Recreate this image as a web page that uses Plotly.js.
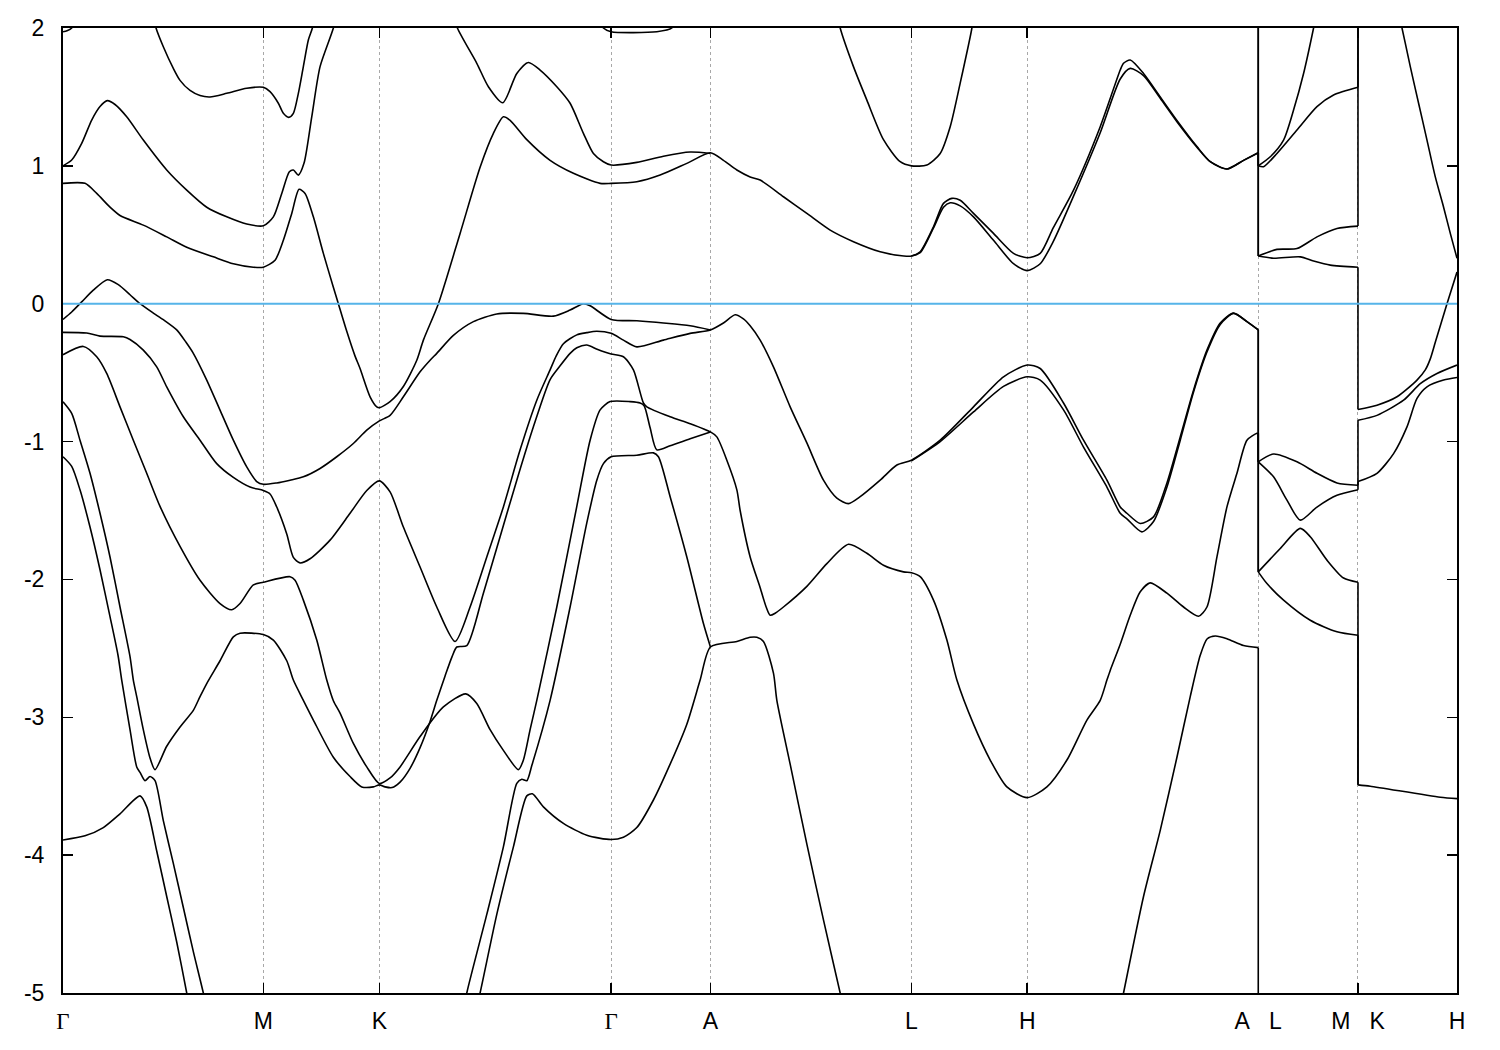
<!DOCTYPE html>
<html>
<head>
<meta charset="utf-8">
<script src="https://cdn.plot.ly/plotly-3.0.1.min.js"></script>
<style>html,body{margin:0;padding:0;background:#fff;}#chart{width:1500px;height:1050px;}</style>
</head>
<body>
<div id="chart"></div>
<script>
// k-path: high-symmetry positions and labels
const kTicks = [0, 200.3, 316.3, 548, 647.3, 848.3, 964, 1195, 1294.7, 1393.7];
const kLabels = ['Γ', 'M', 'K', 'Γ', 'A', 'L', 'H', 'A\u00a0\u00a0\u00a0L', 'M\u00a0\u00a0\u00a0K', 'H'];
const eTicks = [-5, -4, -3, -2, -1, 0, 1, 2];
const eLabels = ['-5', '-4', '-3', '-2', '-1', '0', '1', '2'];
const fermiLevel = 0;

// bands: [k, E (eV)]
const band01 = [[0,1.973],[4,1.98],[8.7,2.0],[10,2.03]];
const band02 = [[89,2.12],[93,2.0],[100.3,1.864],[110.3,1.707],[117,1.62],[127,1.547],[137,1.51],[147,1.50],[163.7,1.526],[183.7,1.563],[200.3,1.57],[207,1.538],[215.3,1.454],[220.3,1.381],[225.7,1.352],[230.3,1.381],[235.3,1.526],[240.3,1.72],[245.3,1.913],[249.3,2.0],[251,2.1]];
const band03 = [[0,1.0],[8.7,1.042],[18.7,1.163],[28.7,1.332],[37,1.43],[44.3,1.473],[52,1.445],[63.7,1.356],[80.3,1.187],[103.7,0.97],[123.7,0.824],[143.7,0.70],[163.7,0.63],[183.7,0.578],[200.3,0.565],[210.3,0.63],[218.7,0.80],[226.3,0.957],[230.3,0.97],[235.3,0.933],[241,1.02],[248.7,1.356],[257,1.72],[270.3,2.0],[273,2.1]];
const band04 = [[0,0.873],[22,0.873],[33.7,0.80],[47,0.70],[57,0.64],[80.3,0.57],[103.7,0.485],[123.7,0.41],[150.3,0.34],[170.3,0.29],[190.3,0.265],[200.3,0.265],[212,0.316],[220.3,0.46],[228.7,0.655],[236,0.83],[242,0.80],[250.3,0.63],[260.3,0.365],[270.3,0.12],[275.3,0.0],[283.7,-0.2],[292,-0.38],[297,-0.47],[307,-0.675],[313.7,-0.748],[316.3,-0.755],[327,-0.71],[340.3,-0.60],[353.7,-0.41],[360.3,-0.264],[375.3,0.0],[397,0.51],[417,0.99],[430.3,1.236],[440.3,1.356],[447,1.33],[463.7,1.19],[487,1.04],[510.3,0.946],[537,0.873],[548,0.873],[573.7,0.885],[597,0.933],[623.7,1.018],[647.3,1.095],[660.3,1.04],[673.7,0.97],[687,0.92],[697,0.897],[720.3,0.776],[743.7,0.655],[767,0.534],[790.3,0.45],[817,0.377],[840.7,0.346],[848.3,0.346],[857,0.377],[870.3,0.558],[880.3,0.728],[888.7,0.764],[897,0.75],[910.3,0.655],[930.3,0.51],[950.3,0.365],[964,0.333],[977,0.365],[990,0.55],[1010.3,0.824],[1037,1.284],[1057,1.695],[1060.3,1.744],[1067,1.768],[1080.3,1.67],[1097,1.50],[1113.7,1.33],[1133.7,1.14],[1147,1.03],[1163.7,0.977],[1180.3,1.04],[1195,1.095],[1195,0.346],[1213.7,0.394],[1233.7,0.40],[1253.7,0.485],[1273.7,0.546],[1294.7,0.563],[1294.7,3.4],[1338.7,2.0],[1347,1.72],[1355.3,1.454],[1363.7,1.187],[1372,0.92],[1380.3,0.70],[1387,0.51],[1393.7,0.33]];
const band05 = [[848.3,0.346],[857,0.37],[870.3,0.55],[880.3,0.70],[887,0.732],[897,0.71],[910.3,0.63],[930.3,0.46],[950.3,0.29],[964,0.24],[977,0.29],[990,0.45],[1010.3,0.78],[1037,1.24],[1057,1.63],[1067,1.707],[1080.3,1.655],[1097,1.49],[1113.7,1.32],[1133.7,1.135],[1147,1.03],[1163.7,0.977],[1180.3,1.04],[1195,1.095],[1195,0.346],[1210.3,0.33],[1237,0.34],[1250.3,0.31],[1267,0.28],[1294.7,0.265],[1294.7,-0.767],[1313.7,-0.736],[1333.7,-0.675],[1353.7,-0.554],[1362,-0.48],[1367,-0.40],[1372,-0.28],[1383.7,0.0],[1393.7,0.23]];
const band06 = [[388,2.15],[394.3,2.0],[413.7,1.744],[425.3,1.574],[439.7,1.458],[453.7,1.67],[465.3,1.75],[477,1.695],[493.7,1.574],[507,1.454],[520.3,1.236],[530.3,1.09],[540.3,1.03],[548,1.006],[573.7,1.025],[600.3,1.07],[627,1.10],[647.3,1.09]];
const band07 = [[537,2.05],[540.3,2.0],[548,1.973],[593.7,1.973],[608.7,2.0],[612,2.05]];
const band08 = [[774,2.1],[777,2.0],[790.3,1.72],[803.7,1.477],[820.3,1.19],[837,1.03],[848.3,1.0],[863.7,1.006],[877,1.09],[887,1.284],[897,1.6],[908.7,2.0],[910,2.08]];
const band09 = [[1195,2.6],[1195,1.0],[1207,1.066],[1220.3,1.187],[1230.3,1.405],[1240.3,1.67],[1250.3,2.0],[1253,2.1]];
const band10 = [[1195,2.6],[1195,1.0],[1200.3,0.994],[1213.7,1.09],[1233.7,1.26],[1253.7,1.43],[1270.3,1.514],[1294.7,1.57],[1294.7,3.6]];
const band11 = [[0,-0.114],[8.7,-0.06],[18.7,0.013],[30.3,0.098],[44.3,0.174],[55.3,0.138],[67,0.065],[77,0.0],[90.3,-0.068],[100.3,-0.116],[113.7,-0.19],[123,-0.28],[130.3,-0.36],[143.7,-0.554],[157,-0.772],[170.3,-0.99],[183.7,-1.184],[193.7,-1.29],[200.3,-1.31],[213.7,-1.30],[227,-1.28],[240.3,-1.256],[257,-1.195],[273.7,-1.11],[290.3,-1.014],[303.7,-0.917],[316.3,-0.85],[327,-0.81],[340.3,-0.675],[357,-0.494],[367,-0.41],[373.7,-0.36],[390.3,-0.23],[410.3,-0.13],[433.7,-0.074],[460.3,-0.07],[490.3,-0.09],[507,-0.046],[520.3,0.0],[527,-0.015],[548,-0.114],[573.7,-0.124],[600.3,-0.14],[627,-0.16],[647.3,-0.19]];
const band12 = [[0,-0.208],[23.7,-0.213],[37,-0.235],[60.3,-0.24],[67,-0.26],[80.3,-0.337],[93.7,-0.458],[103.7,-0.603],[120.3,-0.82],[137,-0.99],[153.7,-1.16],[170.3,-1.26],[187,-1.33],[200.3,-1.355],[207,-1.38],[213.7,-1.475],[223.7,-1.67],[230.3,-1.84],[237,-1.88],[247,-1.85],[267,-1.715],[287,-1.52],[303.7,-1.355],[316.3,-1.285],[327,-1.365],[340.3,-1.62],[357,-1.91],[373.7,-2.20],[392,-2.45],[407,-2.2],[423.7,-1.837],[440.3,-1.474],[457,-1.06],[473.7,-0.70],[487,-0.48],[493,-0.38],[500.3,-0.29],[513.7,-0.226],[523.7,-0.21],[533.7,-0.20],[548,-0.215],[560.3,-0.264],[573.7,-0.313],[600.3,-0.264],[627,-0.215],[647.3,-0.19],[660.3,-0.14],[672,-0.08],[680.3,-0.11],[687,-0.16],[697,-0.264],[710.3,-0.458],[727,-0.748],[743.7,-1.01],[760.3,-1.28],[773.7,-1.41],[785.3,-1.45],[797,-1.40],[817,-1.28],[833.7,-1.17],[848.3,-1.135],[877,-0.99],[910.3,-0.748],[940.3,-0.53],[964,-0.445],[977,-0.47],[1000.3,-0.72],[1020.3,-0.99],[1043.7,-1.28],[1057,-1.474],[1063.7,-1.52],[1077,-1.594],[1090.3,-1.546],[1103.7,-1.30],[1117,-0.966],[1130.3,-0.627],[1143.7,-0.337],[1157,-0.14],[1170.3,-0.068],[1183.7,-0.13],[1195,-0.19],[1195,-1.147],[1210.3,-1.09],[1233.7,-1.147],[1253.7,-1.23],[1273.7,-1.30],[1294.7,-1.317],[1294.7,-0.845],[1313.7,-0.81],[1340.3,-0.70],[1357,-0.58],[1373.7,-0.506],[1393.7,-0.445]];
const band13 = [[848.3,-1.14],[877,-1.0],[910.3,-0.785],[940.3,-0.60],[964,-0.53],[977,-0.554],[1000.3,-0.77],[1020.3,-1.04],[1043.7,-1.33],[1057,-1.52],[1063.7,-1.56],[1078.7,-1.655],[1090.3,-1.58],[1103.7,-1.33],[1117,-0.99],[1130.3,-0.64],[1143.7,-0.35],[1157,-0.15],[1170.3,-0.07],[1183.7,-0.13],[1195,-0.19],[1195,-1.147],[1210.3,-1.256],[1223.7,-1.425],[1237,-1.57],[1253.7,-1.475],[1273.7,-1.39],[1294.7,-1.35],[1294.7,-1.29],[1313.7,-1.23],[1330.3,-1.087],[1343.7,-0.893],[1353.7,-0.687],[1363.7,-0.603],[1380.3,-0.554],[1393.7,-0.535]];
const band14 = [[0,-0.37],[20.3,-0.31],[33.7,-0.385],[43.7,-0.506],[57,-0.748],[70.3,-0.99],[83.7,-1.23],[97,-1.47],[117,-1.76],[137,-2.006],[157,-2.175],[168.7,-2.22],[177,-2.175],[190.3,-2.04],[200.3,-2.02],[227,-1.98],[232,-2.006],[240.3,-2.15],[253.7,-2.44],[263.7,-2.73],[270.3,-2.88],[277,-2.97],[290.3,-3.19],[303.7,-3.36],[316.3,-3.48],[327,-3.44],[337,-3.36],[357,-3.14],[380.3,-2.925],[402.7,-2.83],[413.7,-2.90],[427,-3.09],[440.3,-3.24],[455.3,-3.38],[460.3,-3.31],[467,-3.09],[473.7,-2.877],[493.7,-2.20],[513.7,-1.47],[527,-0.99],[537,-0.77],[547,-0.71],[567,-0.71],[577,-0.72],[581,-0.74],[587,-0.90],[593.7,-1.06],[607,-1.03],[627,-0.98],[647.3,-0.93]];
const band15 = [[0,-0.712],[8.7,-0.796],[17,-0.99],[27,-1.23],[37,-1.52],[47,-1.837],[57,-2.2],[67,-2.56],[70.3,-2.73],[73.7,-2.85],[80.3,-3.09],[87,-3.295],[92,-3.38],[103.7,-3.21],[117,-3.07],[130.3,-2.95],[137,-2.85],[143.7,-2.755],[157,-2.59],[170.3,-2.417],[177,-2.39],[200.3,-2.40],[210.3,-2.44],[223.7,-2.59],[230.3,-2.73],[240.3,-2.877],[250.3,-3.02],[270.3,-3.29],[287,-3.43],[298.7,-3.505],[310.3,-3.505],[316.3,-3.49],[322,-3.505],[329,-3.51],[337,-3.47],[347,-3.37],[357,-3.22],[367,-3.03],[373.7,-2.877],[382,-2.70],[389,-2.56],[393.7,-2.49],[403.7,-2.48],[420.3,-2.10],[437,-1.69],[453.7,-1.28],[470.3,-0.893],[487,-0.55],[497,-0.45],[507,-0.36],[513.7,-0.32],[523.7,-0.30],[534,-0.33],[548,-0.365],[560.3,-0.385],[570.3,-0.48],[580.3,-0.72],[583.7,-0.748],[607,-0.82],[627,-0.87],[647.3,-0.93],[653.7,-0.966],[663.7,-1.135],[673.7,-1.35],[677,-1.50],[687,-1.837],[697,-2.06],[703,-2.20],[707,-2.26],[712,-2.245],[720.3,-2.2],[743.7,-2.05],[763.7,-1.885],[785.3,-1.745],[803.7,-1.81],[820.3,-1.897],[840.3,-1.945],[848.3,-1.952],[857,-1.98],[870.3,-2.15],[883.7,-2.44],[893.7,-2.73],[910.3,-3.05],[927,-3.31],[943.7,-3.505],[964,-3.583],[983.7,-3.505],[1003.7,-3.31],[1023.7,-3.02],[1037,-2.877],[1043.7,-2.73],[1047,-2.66],[1057,-2.47],[1067,-2.26],[1077,-2.09],[1087,-2.025],[1103.7,-2.10],[1120.3,-2.2],[1135.3,-2.267],[1143.7,-2.2],[1153.7,-1.837],[1163.7,-1.474],[1173.7,-1.23],[1183.7,-0.99],[1193.7,-0.94],[1195,-0.94],[1195,-1.945],[1203.7,-2.03],[1220.3,-2.15],[1247,-2.296],[1273.7,-2.38],[1294.7,-2.405],[1294.7,-3.49],[1307,-3.50],[1377,-3.58],[1393.7,-3.59]];
const band16 = [[1195,-0.94],[1195,-1.945],[1217,-1.776],[1237,-1.63],[1247,-1.69],[1263.7,-1.86],[1280.3,-1.99],[1294.7,-2.02],[1294.7,-3.49]];
const band17 = [[0,-1.11],[8.7,-1.18],[17,-1.35],[27,-1.62],[37,-1.93],[47,-2.27],[55,-2.55],[58.7,-2.73],[67,-3.09],[73.7,-3.36],[77,-3.40],[82,-3.46],[87,-3.43],[92,-3.46],[100.3,-3.75],[110.3,-4.06],[120.3,-4.38],[130.3,-4.70],[140.3,-5.0],[143,-5.1]];
const band18 = [[0,-3.89],[22,-3.86],[40.3,-3.80],[57,-3.70],[77,-3.57],[83.7,-3.65],[93.7,-3.97],[103.7,-4.30],[113.7,-4.63],[123.7,-5.0],[126,-5.1]];
const band19 = [[400,-5.15],[403.7,-5.0],[423.7,-4.43],[440.3,-3.94],[453.7,-3.48],[458.7,-3.45],[463.7,-3.46],[468.7,-3.35],[487,-2.877],[507,-2.2],[523.7,-1.59],[533.7,-1.28],[540.3,-1.16],[548,-1.11],[573.7,-1.099],[590.3,-1.082],[595.3,-1.11],[607,-1.40],[623.7,-1.837],[640.3,-2.32],[647.3,-2.49]];
const band20 = [[412,-5.15],[417,-5.0],[433.7,-4.43],[450.3,-3.94],[463.7,-3.57],[469.3,-3.555],[480.3,-3.65],[500.3,-3.77],[523.7,-3.856],[548,-3.887],[560.3,-3.87],[573.7,-3.80],[590.3,-3.60],[607,-3.34],[623.7,-3.05],[637,-2.73],[647.3,-2.49],[673.7,-2.45],[687,-2.42],[693.7,-2.42],[700.3,-2.45],[710.3,-2.68],[713.7,-2.877],[727,-3.34],[743.7,-3.92],[760.3,-4.47],[777,-5.0],[780,-5.1]];
const band21 = [[1057,-5.12],[1060.3,-5.0],[1080.3,-4.30],[1097,-3.82],[1113.7,-3.29],[1127,-2.85],[1137,-2.55],[1144,-2.43],[1152,-2.41],[1163.7,-2.43],[1180.3,-2.48],[1195,-2.495],[1195,-5.5]];

const bands = [band01, band02, band03, band04, band05, band06, band07, band08, band09, band10, band11,
  band12, band13, band14, band15, band16, band17, band18, band19, band20, band21];

// Split each band at the path discontinuities (same k twice): smooth runs + straight jumps
const traces = [];
const lineStyle = {color: '#000000', width: 1.6};
bands.forEach(b => {
  let run = [b[0]];
  const flush = () => {
    if (run.length > 1) {
      traces.push({type: 'scatter', mode: 'lines', x: run.map(p => p[0]), y: run.map(p => p[1]),
        line: Object.assign({shape: 'spline', smoothing: 0.7, simplify: false}, lineStyle),
        hoverinfo: 'skip', showlegend: false});
    }
  };
  for (let i = 1; i < b.length; i++) {
    if (b[i][0] === b[i - 1][0]) {
      flush();
      traces.push({type: 'scatter', mode: 'lines', x: [b[i - 1][0], b[i][0]], y: [b[i - 1][1], b[i][1]],
        line: Object.assign({shape: 'linear'}, lineStyle), hoverinfo: 'skip', showlegend: false});
      run = [b[i]];
    } else {
      run.push(b[i]);
    }
  }
  flush();
});

const fontMain = {family: 'Liberation Sans, Arial, sans-serif', size: 23, color: '#000'};
const xLabelsHtml = kLabels.map(t => t === 'Γ' ? '<span style="font-family:Liberation Serif, serif">Γ</span>' : t);

const layout = {
  width: 1500, height: 1050,
  margin: {l: 63, r: 43, t: 28, b: 57},
  paper_bgcolor: '#ffffff', plot_bgcolor: '#ffffff',
  showlegend: false,
  font: fontMain,
  xaxis: {
    range: [0, kTicks[kTicks.length - 1]], tickmode: 'array', tickvals: kTicks, ticktext: xLabelsHtml,
    showgrid: true, gridcolor: '#a8a8a8', griddash: 'dot', gridwidth: 1,
    zeroline: false, showline: true, linecolor: '#000', linewidth: 2, mirror: 'ticks',
    ticks: 'inside', ticklen: 10, tickwidth: 1.5, tickcolor: '#000',
    ticklabelstandoff: 6, tickfont: fontMain
  },
  yaxis: {
    range: [-5, 2], tickmode: 'array', tickvals: eTicks, ticktext: eLabels,
    showgrid: false, zeroline: false, showline: true, linecolor: '#000', linewidth: 2, mirror: 'ticks',
    ticks: 'inside', ticklen: 10, tickwidth: 1.5, tickcolor: '#000',
    ticklabelstandoff: 12, tickfont: fontMain
  },
  shapes: [{
    type: 'line', xref: 'paper', x0: 0, x1: 1, yref: 'y', y0: fermiLevel, y1: fermiLevel,
    line: {color: '#56b4e9', width: 2}, layer: 'above'
  }]
};

Plotly.newPlot('chart', traces, layout, {staticPlot: true, displayModeBar: false});
</script>
</body>
</html>
